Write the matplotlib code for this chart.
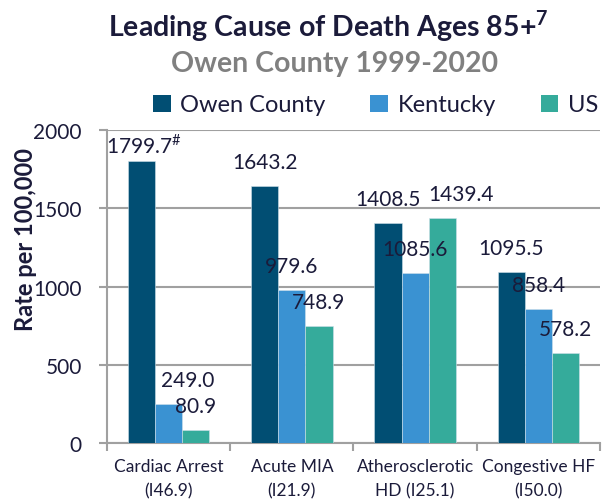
import numpy as np
import matplotlib.pyplot as plt
from matplotlib.patches import Patch

# chart data
categories = ['Cardiac Arrest\n(I46.9)', 'Acute MIA\n(I21.9)',
              'Atherosclerotic\nHD (I25.1)', 'Congestive HF\n(I50.0)']
series_names = ['Owen County', 'Kentucky', 'US']
owen = [1799.7, 1643.2, 1408.5, 1095.5]
kentucky = [249.0, 979.6, 1085.6, 858.4]
us = [80.9, 748.9, 1439.4, 578.2]
yticks = [0, 500, 1000, 1500, 2000]

colors = ['#014e73', '#3a92d2', '#35ab9b']
text_col = '#1b1b3a'
grid_col = '#a0a0a0'

plt.rcParams['font.family'] = ['Lato', 'DejaVu Sans']
plt.rcParams['mathtext.fontset'] = 'custom'
plt.rcParams['mathtext.rm'] = 'Lato'
plt.rcParams['mathtext.bf'] = 'Lato:bold'

fig = plt.figure(figsize=(6.02, 5.02), dpi=100)
ax = fig.add_axes([0.1777, 0.1155, 0.819, 0.6235])

x = np.arange(len(categories))
w = 0.22
all_series = [owen, kentucky, us]

for i, vals in enumerate(all_series):
    ax.bar(x + (i - 1) * w, vals, w, color=colors[i], edgecolor='#cfe0ea',
           linewidth=0.4, zorder=3)

# label nudges (pixels) where the labels were moved by hand
nudge = {(0, 0): (2, 17), (1, 0): (19, 24), (2, 2): (19, 24)}
for i, vals in enumerate(all_series):
    for j, v in enumerate(vals):
        dx, dy = nudge.get((i, j), (0, 24))
        txt = f'{v:.1f}'
        if (i, j) == (0, 0):
            txt += r'$^{\#}$'
        ax.annotate(txt, (x[j] + (i - 1) * w, v), xytext=(dx, dy),
                    textcoords='offset pixels', ha='center', va='center',
                    fontsize=15, color=text_col, zorder=4)

ax.set_xlim(-0.5, 3.5)
ax.set_ylim(0, 2000)
ax.set_yticks(yticks)
ax.tick_params(axis='y', labelsize=15, labelcolor=text_col, color=grid_col,
               length=6, width=1.5, pad=12)
ax.set_xticks(x)
ax.set_xticklabels(categories, fontsize=12.5, color=text_col, linespacing=1.6)
ax.tick_params(axis='x', length=0, pad=11)
ax.set_xticks(np.arange(-0.5, 4, 1), minor=True)
ax.tick_params(axis='x', which='minor', length=6, width=1.5, color=grid_col)

ax.grid(axis='y', color=grid_col, linewidth=1.5, zorder=0)
for s in ['top', 'right']:
    ax.spines[s].set_visible(False)
for s in ['left', 'bottom']:
    ax.spines[s].set_color(grid_col)
    ax.spines[s].set_linewidth(1.5)

ax.set_ylabel('Rate per 100,000', fontsize=17, fontweight='bold',
              color=text_col)
ax.yaxis.set_label_coords(-0.141, 0.652)

fig.text(0.545, 0.948, r'Leading Cause of Death Ages 85+$^{\mathbf{7}}$',
         ha='center', va='center', fontsize=20.5, fontweight='bold',
         color=text_col)
fig.text(0.555, 0.872, 'Owen County 1999-2020', ha='center', va='center',
         fontsize=20.5, fontweight='bold', color='#808080')

handles = [Patch(facecolor=c) for c in colors]
fig.legend(handles, series_names, loc='center', bbox_to_anchor=(0.624, 0.789),
           ncol=3, frameon=False, fontsize=17, labelcolor=text_col,
           handlelength=0.75, handleheight=0.75, handletextpad=0.4,
           columnspacing=1.9)

fig.savefig('out.png', dpi=100)
